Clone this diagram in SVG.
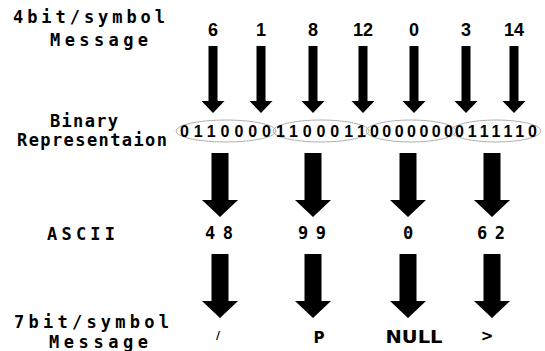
<svg xmlns="http://www.w3.org/2000/svg" xmlns:xlink="http://www.w3.org/1999/xlink" width="545" height="351" viewBox="0 0 545 351">
<style>
.lbl{font-family:"DejaVu Sans Mono","Liberation Mono",monospace;font-weight:bold;font-size:17px;fill:#000}
.num{font-family:"Liberation Sans",Arial,sans-serif;font-weight:bold;font-size:18px;fill:#000;text-anchor:middle}
.bin{font-family:"Liberation Sans",Arial,sans-serif;font-weight:bold;font-size:16px;fill:#000}
.asc{font-family:"DejaVu Sans Mono","Liberation Mono",monospace;font-weight:bold;font-size:17px;fill:#000}
.chr{font-family:"DejaVu Sans","Liberation Sans",sans-serif;font-weight:900;fill:#000;text-anchor:middle}
.ell{fill:none;stroke:#b0b0b0;stroke-width:1}
.arr{fill:#000}
</style>
<defs>
<path id="thin" d="M-4.5,0 H4.5 V55 H11.5 L0,67 L-11.5,55 H-4.5 Z"/>
<path id="big" d="M-8.5,0 H8.5 V47 H18 L0,64 L-18,47 H-8.5 Z"/>
</defs>
<rect width="545" height="351" fill="#fff"/>

<g id="labels">
<text class="lbl" x="13" y="23" textLength="152" lengthAdjust="spacing">4bit/symbol</text>
<text class="lbl" x="50" y="46" textLength="98" lengthAdjust="spacing">Message</text>
<text class="lbl" x="50" y="127" textLength="68" lengthAdjust="spacing" font-size="15">Binary</text>
<text class="lbl" x="17" y="146" textLength="150" lengthAdjust="spacing" font-size="16">Representaion</text>
<text class="lbl" x="47" y="240" textLength="68" lengthAdjust="spacing">ASCII</text>
<text class="lbl" x="14" y="328" textLength="155" lengthAdjust="spacing" font-size="16">7bit/symbol</text>
<text class="lbl" x="49" y="348" textLength="99" lengthAdjust="spacing" font-size="16">Message</text>
</g>

<g id="sym4">
<text class="num" x="213" y="36">6</text>
<text class="num" x="261" y="36">1</text>
<text class="num" x="313" y="36">8</text>
<text class="num" x="363" y="36">12</text>
<text class="num" x="414" y="36">0</text>
<text class="num" x="466" y="36">3</text>
<text class="num" x="514" y="36">14</text>
</g>

<g id="binary">
<ellipse class="ell" cx="226" cy="131" rx="50" ry="11"/>
<ellipse class="ell" cx="321" cy="131" rx="48" ry="11"/>
<ellipse class="ell" cx="411" cy="131" rx="45" ry="11"/>
<ellipse class="ell" cx="496" cy="131" rx="45" ry="11"/>
<text class="bin" x="180" y="137" textLength="91" lengthAdjust="spacing">0110000</text>
<text class="bin" x="276" y="137" textLength="90" lengthAdjust="spacing">1100011</text>
<text class="bin" x="370" y="137" textLength="83" lengthAdjust="spacing">0000000</text>
<text class="bin" x="455" y="137" textLength="82" lengthAdjust="spacing">0111110</text>
</g>

<g id="ascii">
<text class="asc" x="205" y="239" textLength="28" lengthAdjust="spacing">48</text>
<text class="asc" x="298" y="239" textLength="28" lengthAdjust="spacing">99</text>
<text class="asc" x="408" y="239" text-anchor="middle">0</text>
<text class="asc" x="477" y="239" textLength="28" lengthAdjust="spacing">62</text>
</g>

<g id="sym7">
<text class="chr" x="218" y="339" font-size="11">/</text>
<text class="chr" x="319" y="343" font-size="15">P</text>
<text class="chr" x="414" y="343" font-size="17" textLength="57" lengthAdjust="spacingAndGlyphs">NULL</text>
<text class="chr" x="487" y="341" font-size="15">&gt;</text>
</g>

<g id="connectors" class="arr">
<use xlink:href="#thin" transform="translate(213,46)"/>
<use xlink:href="#thin" transform="translate(261,46)"/>
<use xlink:href="#thin" transform="translate(313,46)"/>
<use xlink:href="#thin" transform="translate(363,46)"/>
<use xlink:href="#thin" transform="translate(414,46)"/>
<use xlink:href="#thin" transform="translate(466,46)"/>
<use xlink:href="#thin" transform="translate(514,46)"/>
<use xlink:href="#big" transform="translate(220,153)"/>
<use xlink:href="#big" transform="translate(313,153)"/>
<use xlink:href="#big" transform="translate(408,153)"/>
<use xlink:href="#big" transform="translate(492,153)"/>
<use xlink:href="#big" transform="translate(220,254)"/>
<use xlink:href="#big" transform="translate(313,254)"/>
<use xlink:href="#big" transform="translate(408,254)"/>
<use xlink:href="#big" transform="translate(492,254)"/>
</g>
</svg>
